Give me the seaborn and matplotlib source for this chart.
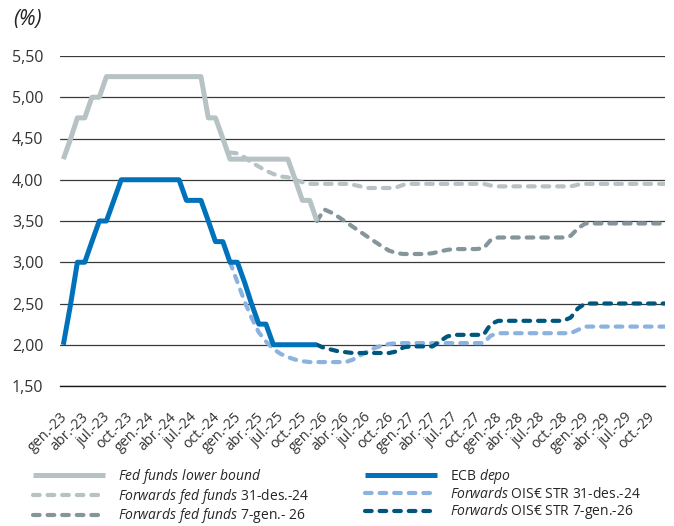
import pandas as pd
import numpy as np
import matplotlib
matplotlib.use("Agg")
import matplotlib.pyplot as plt
import matplotlib.transforms as mtransforms
import seaborn as sns

# Serie mensili (fine mese), gen-23 .. dic-29
fed_funds = [4.25, 4.50, 4.75, 4.75, 5.00, 5.00] + [5.25] * 14 + \
            [4.75, 4.75, 4.50, 4.25] + [4.25] * 8 + [4.00, 3.75, 3.75, 3.50]
ecb_depo = [2.00, 2.50, 3.00, 3.00, 3.25, 3.50, 3.50, 3.75] + [4.00] * 9 + \
           [3.75, 3.75, 3.75, 3.50, 3.25, 3.25, 3.00, 3.00, 2.75, 2.50, 2.25, 2.25] + [2.00] * 7

# forwards dal 31-des-24 (dic-24 = mese 23)
fwd_fed_dec24 = [4.33, 4.32, 4.27, 4.21, 4.16, 4.11, 4.07, 4.04, 4.03, 4.00, 3.97, 3.95,
                 3.95, 3.95, 3.95, 3.95, 3.95, 3.94, 3.92, 3.90, 3.90, 3.90, 3.90, 3.91, 3.94] + \
                [3.95] * 11 + [3.93] + [3.92] * 11 + [3.94] + [3.95] * 12
fwd_ois_dec24 = [3.00, 2.76, 2.52, 2.33, 2.15, 2.04, 1.95, 1.89, 1.85, 1.82, 1.80, 1.79,
                 1.79, 1.79, 1.79, 1.79, 1.79, 1.82, 1.87, 1.92, 1.96, 1.99, 2.01] + \
                [2.02] * 13 + [2.11] + [2.14] * 11 + [2.18] + [2.22] * 12

# forwards dal 7-gen-26 (dic-25 = mese 35)
fwd_fed_jan26 = [3.50, 3.64, 3.60, 3.55, 3.49, 3.43, 3.37, 3.31, 3.25, 3.19, 3.14, 3.11,
                 3.10, 3.10, 3.10, 3.10, 3.11, 3.13, 3.15, 3.16, 3.16, 3.16, 3.16, 3.17, 3.27] + \
                [3.30] * 10 + [3.32, 3.41] + [3.47] * 12
fwd_ois_jan26 = [2.00, 1.96, 1.94, 1.92, 1.91, 1.90, 1.90, 1.90, 1.90, 1.90, 1.90, 1.92,
                 1.97, 1.98, 1.98, 1.98, 1.98, 2.04, 2.10, 2.12, 2.12, 2.12, 2.12, 2.12, 2.25] + \
                [2.29] * 10 + [2.33, 2.44] + [2.50] * 12

month_abbr = ["gen.", "abr.", "jul.", "oct."]
tick_labels = [f"{m}-{y}" for y in range(23, 30) for m in month_abbr]
y_ticks = [1.5, 2.0, 2.5, 3.0, 3.5, 4.0, 4.5, 5.0, 5.5]
y_labels = ["1,50", "2,00", "2,50", "3,00", "3,50", "4,00", "4,50", "5,00", "5,50"]

dates = pd.date_range("2023-01-01", periods=84, freq="MS") + pd.Timedelta(days=14)

series = [
    # label, values, start index, color, width, dashed
    (r"$\it{Fed\ funds\ lower\ bound}$", fed_funds, 0, "#b7c2c5", 3.6, False),
    (r"$\it{Forwards\ fed\ funds}$ 31-des.-24", fwd_fed_dec24, 23, "#b7c2c5", 3.0, True),
    (r"$\it{Forwards\ fed\ funds}$ 7-gen.- 26", fwd_fed_jan26, 35, "#84969b", 3.0, True),
    (r"ECB $\it{depo}$", ecb_depo, 0, "#0072bb", 3.6, False),
    (r"$\it{Forwards}$ OIS€ STR 31-des.-24", fwd_ois_dec24, 23, "#8cb2e0", 3.0, True),
    (r"$\it{Forwards}$ OIS€ STR 7-gen.-26", fwd_ois_jan26, 35, "#00567f", 3.0, True),
]

sns.set_style("white")
plt.rcParams["font.family"] = ["Open Sans", "DejaVu Sans"]
plt.rcParams["mathtext.fontset"] = "custom"
plt.rcParams["mathtext.rm"] = "Open Sans"
plt.rcParams["mathtext.it"] = "Open Sans:italic"

fig = plt.figure(figsize=(6.74, 5.26), dpi=100)
ax = fig.add_axes([60 / 674, 1 - 386 / 526, 605 / 674, 330 / 526])

# prima le forward, sopra le serie storiche
order = [1, 2, 4, 5, 0, 3]
lines = {}
for i in order:
    label, vals, start, color, lw, dashed = series[i]
    df = pd.DataFrame({"date": dates[start:start + len(vals)], "rate": vals})
    sns.lineplot(data=df, x="date", y="rate", ax=ax, color=color, linewidth=lw, label=label,
                 legend=False)
    ln = ax.get_lines()[-1]
    if dashed:
        ln.set_dashes((1.6, 1.9))
        ln.set_dash_capstyle("round")
    else:
        ln.set_solid_capstyle("butt")
    lines[i] = ln

ax.set_ylim(1.5, 5.5)
ax.set_xlim(pd.Timestamp("2023-01-01"), pd.Timestamp("2029-12-16"))
ax.set_yticks(y_ticks)
ax.set_yticklabels(y_labels)
ax.set_xticks(pd.date_range("2023-01-01", "2029-10-01", freq="QS"))
ax.set_xticklabels(tick_labels, rotation=45, ha="right", va="top", rotation_mode="anchor")
offset = mtransforms.ScaledTranslation(-3 / 100, 0, fig.dpi_scale_trans)
for t in ax.get_xticklabels():
    t.set_transform(t.get_transform() + offset)

ax.set_xlabel("")
ax.set_ylabel("")
ax.yaxis.grid(True, color="#3a3a3a", linewidth=0.9)
ax.xaxis.grid(False)
ax.set_axisbelow(True)
for s in ["left", "right", "top"]:
    ax.spines[s].set_visible(False)
ax.spines["bottom"].set_color("#1a1a1a")
ax.spines["bottom"].set_linewidth(1.0)
ax.tick_params(axis="y", length=0, pad=12, labelsize=11.5, labelcolor="#333333")
ax.tick_params(axis="x", direction="in", length=4, width=1, color="#1a1a1a", pad=17,
               labelsize=10.3, labelcolor="#333333")

fig.text(13 / 674, 1 - 19 / 526, "(%)", fontsize=15, style="italic", color="#222222", va="center")

leg_kw = dict(frameon=False, fontsize=10, handlelength=5.2, handletextpad=0.9,
              labelspacing=0.05, loc="upper left", borderaxespad=0, borderpad=0)
fig.legend([lines[i] for i in [0, 1, 2]], [series[i][0] for i in [0, 1, 2]],
           bbox_to_anchor=(33 / 674, 1 - 467 / 526), **leg_kw)
fig.legend([lines[i] for i in [3, 4, 5]], [series[i][0] for i in [3, 4, 5]],
           bbox_to_anchor=(365 / 674, 1 - 467 / 526), **leg_kw)

fig.savefig("out.png", dpi=100)
